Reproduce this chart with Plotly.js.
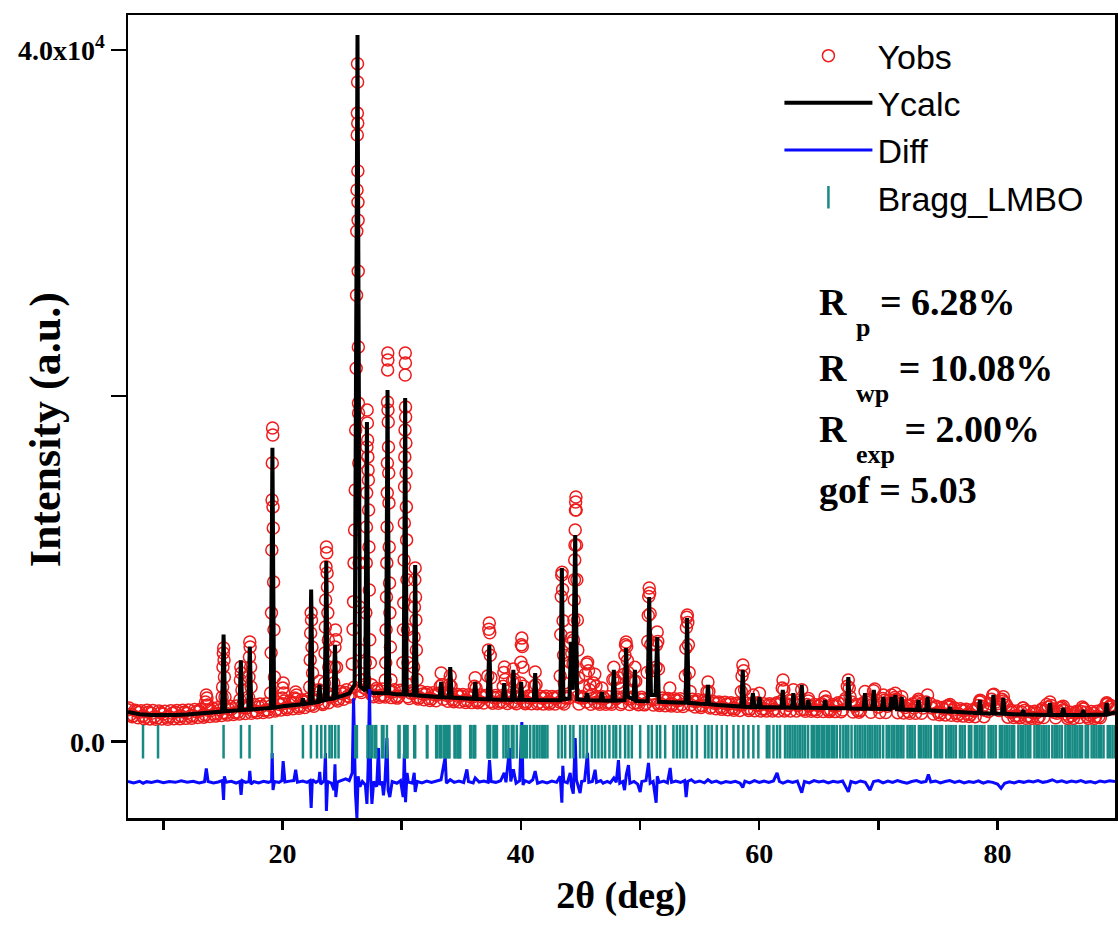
<!DOCTYPE html>
<html>
<head>
<meta charset="utf-8">
<script src="https://cdn.plot.ly/plotly-3.0.1.min.js"></script>
<style>
  html, body { margin: 0; padding: 0; background: #ffffff; }
  #chart { width: 1118px; height: 926px; }
</style>
</head>
<body>
<div id="chart"></div>
<script>
// ---------------- DATA ----------------
// Ycalc: calculated profile, [2theta (deg), intensity]
const yCalcPoints = [
[7.03,1720],[7.5,1640],[8.0,1590],[9.0,1550],[10.0,1530],[11.0,1550],[12.0,1580],[13.0,1630],[14.0,1690],
[14.92,1740],[15.05,6200],[15.18,1760],[16.0,1800],[16.38,1820],[16.5,4700],[16.62,1830],[17.12,1850],[17.25,5500],[17.38,1860],
[18.0,1900],[19.01,1950],[19.15,17000],[19.29,1970],[20.0,2050],[21.0,2120],[21.6,2160],[21.71,2500],[21.82,2180],
[22.27,2220],[22.4,8800],[22.53,2250],[22.98,2300],[23.1,3300],[23.22,2350],[23.54,2400],[23.67,10450],[23.8,2450],
[24.27,2500],[24.4,5600],[24.53,2550],[25.0,2650],[25.6,2800],[26.05,3300],[26.29,40870],[26.5,3200],[26.94,2950],
[27.08,18490],[27.22,2880],[27.6,2820],[28.3,2800],[28.68,2800],[28.81,20340],[28.95,2800],[29.5,2750],[30.16,2750],
[30.29,19880],[30.42,2720],[31.0,2700],[31.13,10220],[31.26,2680],[32.0,2620],[33.18,2580],[33.31,3450],[33.44,2575],
[33.94,2560],[34.07,4320],[34.2,2550],[35.0,2500],[36.04,2480],[36.17,3450],[36.3,2475],[37.22,2450],[37.35,5590],
[37.48,2440],[38.48,2430],[38.6,3390],[38.72,2430],[39.25,2420],[39.37,4150],[39.49,2420],[39.9,2420],[40.02,3450],
[40.14,2420],[41.08,2410],[41.2,3970],[41.32,2410],[42.0,2400],[43.31,2400],[43.44,10040],[43.57,2450],[44.08,2500],
[44.2,5770],[44.36,3000],[44.56,11950],[44.72,2450],[45.42,2400],[45.55,2800],[45.68,2400],[46.68,2385],[46.8,2870],
[46.92,2380],[47.68,2375],[47.8,4150],[47.92,2370],[48.7,2400],[48.83,5420],[48.97,2600],[49.45,2450],[49.57,4150],
[49.69,2355],[50.64,2340],[50.77,8370],[50.92,2700],[51.3,2700],[51.44,6050],[51.58,2310],[52.5,2280],[53.82,2255],
[53.95,7150],[54.08,2250],[55.0,2200],[55.6,2180],[55.7,3280],[55.8,2170],[56.5,2120],[57.5,2070],[58.5,2030],
[58.62,4150],[58.75,2020],[59.35,2010],[59.47,2810],[59.6,2005],[59.9,2000],[60.02,2590],[60.14,2000],[61.0,1990],
[61.86,1985],[61.98,2990],[62.1,1980],[62.75,1975],[62.87,2810],[63.0,1970],[63.45,1968],[63.57,3280],[63.7,1965],
[64.02,1962],[64.13,2410],[64.25,1960],[65.42,1948],[65.53,2410],[65.65,1945],[66.5,1935],[67.35,1930],[67.48,3740],
[67.62,1925],[68.76,1912],[68.88,2810],[69.0,1910],[69.48,1905],[69.62,2990],[69.76,1902],[70.3,1895],[70.42,2590],
[70.54,1890],[70.98,1880],[71.1,2590],[71.24,1875],[71.3,1875],[71.42,2700],[71.55,1870],[71.84,1865],[71.96,2590],
[72.08,1860],[73.24,1838],[73.36,2410],[73.48,1835],[74.01,1822],[74.13,2590],[74.25,1815],[75.9,1745],[76.01,2010],
[76.12,1740],[78.41,1650],[78.53,2410],[78.65,1648],[79.53,1635],[79.65,2700],[79.77,1632],[80.37,1615],[80.49,2530],
[80.61,1612],[82.05,1570],[82.16,1830],[82.27,1568],[84.28,1550],[84.4,2240],[84.52,1550],[85.4,1545],[85.52,1950],
[85.64,1545],[87.08,1540],[87.2,1830],[87.32,1540],[89.04,1570],[89.16,2240],[89.28,1580],[89.86,1700]
];

// Yobs: observed points on the background, [2theta, intensity]
const yObsBackground = [
[7.0,1850],[7.25,1580],[7.5,1500],[7.75,1760],[8.0,1700],[8.25,1480],[8.5,1420],[8.75,1700],[9.0,1640],[9.25,1450],
[9.5,1380],[9.75,1680],[10.0,1600],[10.25,1420],[10.5,1450],[10.75,1640],[11.0,1700],[11.25,1440],[11.5,1480],[11.75,1700],
[12.0,1650],[12.25,1470],[12.5,1500],[12.75,1740],[13.0,1760],[13.25,1520],[13.5,1560],[13.75,1820],[14.0,1800],[14.25,1600],
[14.5,1620],[14.75,1850],[15.0,1680],[15.25,1640],[15.5,1880],[15.75,1900],[16.0,1690],[16.25,1700],[16.75,1960],[17.0,1950],
[17.5,1760],[17.75,1780],[18.0,2020],[18.25,2040],[18.5,1800],[18.75,1830],[19.0,2060],[19.5,1880],[19.75,2150],[20.0,2200],
[20.25,1950],[20.5,1960],[20.75,2230],[21.0,2250],[21.25,2020],[21.5,2050],[21.75,2300],[22.0,2330],[22.25,2100],[22.5,2150],
[22.75,2400],[23.0,2420],[23.25,2220],[23.5,2250],[24.0,2580],[24.25,2620],[24.5,2450],[24.75,2480],[25.0,2780],[25.25,2850],
[25.5,2650],[25.75,2760],[26.0,3150],[26.5,2950],[26.75,3150],[27.0,3050],[27.5,2700],[27.75,2930],[28.0,2950],[28.25,2680],
[28.5,2680],[29.0,2900],[29.25,2880],[29.5,2620],[29.75,2630],[30.0,2880],[30.5,2600],[30.75,2820],[31.0,2820],[31.25,2570],
[31.5,2550],[31.75,2760],[32.0,2740],[32.25,2500],[32.5,2480],[32.75,2710],[33.0,2700],[33.5,2450],[33.75,2690],[34.0,2680],
[34.25,2430],[34.5,2400],[34.75,2630],[35.0,2640],[35.25,2380],[35.5,2380],[35.75,2600],[36.0,2600],[36.25,2360],[36.5,2340],
[36.75,2580],[37.0,2580],[37.5,2330],[37.75,2550],[38.0,2560],[38.25,2320],[38.5,2300],[38.75,2540],[39.0,2550],[39.25,2310],
[39.5,2300],[39.75,2540],[40.0,2540],[40.25,2300],[40.5,2290],[40.75,2530],[41.0,2550],[41.5,2280],[41.75,2520],[42.0,2530],
[42.25,2290],[42.5,2270],[42.75,2520],[43.0,2520],[43.25,2290],[43.5,2280],[43.75,2520],[44.0,2520],[44.75,2600],[45.0,2530],
[45.25,2520],[45.5,2300],[45.75,3000],[46.0,2500],[46.25,2270],[46.5,2270],[46.75,2500],[47.0,2500],[47.25,2270],[47.5,2260],
[48.0,2490],[48.5,2250],[49.0,2480],[49.25,2480],[49.5,2240],[49.75,2240],[50.0,2460],[50.25,2450],[50.5,2220],[51.0,2440],
[51.25,2440],[51.5,2200],[51.75,2200],[52.0,2410],[52.25,2400],[52.5,2170],[52.75,2170],[53.0,2390],[53.25,2380],[53.5,2150],
[54.25,2130],[54.5,2340],[54.75,2330],[55.0,2080],[55.25,2080],[55.5,2290],[56.0,2010],[56.25,2220],[56.5,2220],[56.75,1990],
[57.0,1970],[57.25,2180],[57.5,2180],[57.75,1940],[58.0,1920],[58.25,2140],[58.5,2140],[59.0,1900],[59.25,1910],[59.5,2200],
[59.75,2120],[60.0,2100],[60.25,1890],[60.5,1890],[60.75,2110],[61.0,2110],[61.25,1880],[61.5,2250],[61.75,2200],[62.25,1880],
[62.5,2090],[62.75,2400],[63.0,2200],[63.25,2100],[63.5,1860],[63.75,1860],[64.0,2150],[64.25,2080],[64.5,1850],[64.75,1850],
[65.0,2070],[65.25,2200],[65.5,2300],[65.75,1840],[66.0,1840],[66.25,2060],[66.5,2060],[66.75,2200],[67.0,1830],[67.25,2500],
[67.75,2300],[68.0,2050],[68.25,1810],[68.5,1810],[68.75,2250],[69.0,2300],[69.25,2400],[69.5,2150],[70.0,2000],[70.25,2200],
[70.5,2400],[70.75,2050],[71.0,2250],[71.25,2400],[71.5,2450],[71.75,2150],[72.0,2100],[72.25,1980],[72.5,1750],[72.75,2100],
[73.0,1950],[73.25,2250],[73.5,2150],[73.75,1950],[74.0,2300],[74.5,1950],[74.75,2000],[75.0,1700],[75.25,1660],[75.5,1880],
[75.75,2050],[76.0,2000],[76.25,1820],[76.5,1640],[76.75,1600],[77.0,1820],[77.25,1800],[77.5,1600],[77.75,1580],[78.0,1780],
[78.25,1900],[78.5,2300],[78.75,2050],[79.0,1800],[79.25,1750],[79.5,2450],[80.0,2200],[80.25,2000],[80.5,2350],[80.75,2100],
[81.0,1720],[81.25,1700],[81.5,1500],[81.75,1480],[82.0,1700],[82.25,1800],[82.5,1480],[82.75,1450],[83.0,1660],[83.25,1660],
[83.5,1450],[83.75,1900],[84.0,1800],[84.25,2000],[84.5,2100],[84.75,1700],[85.0,1650],[85.25,1950],[85.5,1850],[85.75,1600],
[86.0,1450],[86.25,1500],[86.5,1650],[86.75,1700],[87.0,1750],[87.25,1900],[87.5,1460],[87.75,1550],[88.0,1640],[88.25,1460],
[88.5,1450],[88.75,1800],[89.0,1900],[89.25,2200],[89.5,2100],[89.75,1900]
];

// Yobs: further observed background points lying between the ones above, [2theta, intensity]
const yObsBackgroundFine = [
[7.125,1950],[7.375,1450],[7.625,1820],[7.875,1380],[8.125,1790],[8.375,1330],[8.625,1820],[8.875,1320],[9.125,1800],[9.375,1300],
[9.625,1780],[9.875,1310],[10.125,1760],[10.375,1300],[10.625,1790],[10.875,1330],[11.125,1800],[11.375,1330],[11.625,1820],[11.875,1350],
[12.125,1830],[12.375,1360],[12.625,1860],[12.875,1400],[13.125,1880],[13.375,1420],[13.625,2100],[13.875,1460],[14.125,1950],[14.375,1480],
[14.625,1980],[14.875,1520],[15.125,2000],[15.375,1540],[15.625,2050],[15.875,1580],[16.125,2060],[16.375,1600],[16.625,2100],[16.875,1630],
[17.125,2120],[17.375,1650],[17.625,2150],[17.875,1670],[18.125,2180],[18.375,1690],[18.625,2200],[18.875,1720],[19.375,1770],[19.625,2250],
[19.875,1830],[20.125,2350],[20.375,1860],[20.625,2350],[20.875,1900],[21.125,2450],[21.375,1930],[21.625,2420],[21.875,1980],[22.125,2470],
[22.625,2050],[22.875,2550],[23.375,2150],[23.875,2250],[24.125,2720],[24.625,2350],[24.875,2900],[25.125,2450],[25.375,3000],[25.625,2580],
[26.625,2850],[26.875,3300],[27.625,2600],[27.875,3080],[28.125,2570],[28.375,3050],[28.625,2580],[29.125,2550],[29.375,3000],[29.625,2520],
[29.875,2980],[30.625,2500],[30.875,2950],[31.375,2470],[31.625,2900],[31.875,2420],[32.125,2850],[32.375,2380],[32.625,2830],[32.875,2370],
[33.125,2800],[33.625,2800],[33.875,2340],[34.125,2780],[34.375,2310],[34.625,2750],[34.875,2290],[35.125,2730],[35.375,2270],[35.625,2720],
[35.875,2260],[36.125,2700],[36.375,2250],[36.625,2700],[36.875,2240],[37.125,2680],[37.625,2230],[37.875,2670],[38.125,2220],[38.375,2660],
[38.875,2210],[39.125,2660],[39.625,2200],[39.875,2650],[40.375,2200],[40.625,2640],[40.875,2190],[41.125,2640],[41.375,2190],[41.625,2630],
[41.875,2180],[42.125,2630],[42.375,2180],[42.625,2620],[42.875,2180],[43.125,2620],[43.625,2180],[43.875,2620],[44.875,2180],[45.125,2620],
[45.875,2170],[46.375,2620],[46.625,2170],[46.875,2600],[47.125,2160],[47.375,2600],[47.625,2160],[48.125,2590],[48.375,2150],[48.625,2600],
[49.125,2150],[49.375,2580],[49.875,2140],[50.125,2570],[50.375,2130],[51.125,2120],[51.625,2100],[51.875,2520],[52.125,2080],[52.375,2500],
[52.625,2060],[52.875,2490],[53.125,2050],[53.375,2480],[53.625,2040],[54.375,2450],[54.625,2010],[54.875,2420],[55.125,1980],[55.375,2400],
[55.875,1950],[56.125,2330],[56.375,1900],[56.625,2300],[56.875,1870],[57.125,2280],[57.375,1850],[57.625,2250],[57.875,1820],[58.125,2230],
[58.375,1810],[58.875,2220],[59.125,1800],[59.375,2220],[59.625,1790],[59.875,2250],[60.125,1780],[60.375,2200],[60.625,1780],[60.875,2200],
[61.125,1770],[61.375,2180],[61.625,1780],[61.875,2350],[62.125,1780],[62.375,2180],[62.625,1770],[63.125,1770],[63.375,2300],[63.875,1760],
[64.125,2350],[64.375,1760],[64.625,2150],[64.875,1750],[65.125,2150],[65.375,1750],[65.625,2350],[65.875,1740],[66.125,2150],[66.375,1740],
[66.625,2250],[66.875,1730],[67.125,2350],[67.625,2600],[67.875,1720],[68.125,2150],[68.375,1710],[68.625,2150],[69.125,2450],[69.375,1700],
[69.875,2400],[70.125,1690],[70.375,2500],[70.625,1690],[70.875,2400],[71.375,2550],[71.625,1680],[71.875,2350],[72.125,1660],[72.375,2100],
[72.625,1650],[72.875,2200],[73.125,1640],[73.375,2350],[73.625,1640],[73.875,2150],[74.375,2200],[74.625,1600],[74.875,2050],[75.125,1560],
[75.375,1980],[75.625,1550],[75.875,2100],[76.125,1530],[76.375,1950],[76.625,1500],[76.875,1900],[77.125,1480],[77.375,1880],[77.625,1460],
[77.875,1850],[78.125,1450],[78.375,2100],[78.625,2350],[78.875,1450],[79.125,1900],[79.375,2200],[79.875,2300],[80.125,1800],[80.375,2450],
[80.625,2250],[80.875,1420],[81.125,1820],[81.375,1400],[81.625,1780],[81.875,1380],[82.125,1950],[82.375,1360],[82.625,1750],[82.875,1350],
[83.125,1760],[83.375,1350],[83.625,1800],[83.875,1400],[84.125,2150],[84.625,1900],[84.875,1380],[85.125,1750],[85.375,2000],[85.625,1800],
[85.875,1350],[86.125,1700],[86.375,1350],[86.625,1750],[86.875,1400],[87.125,2000],[87.375,1700],[87.625,1350],[87.875,1750],[88.125,1350],
[88.375,1760],[88.625,1380],[88.875,1900],[89.125,2150],[89.375,2000],[89.625,2050]
];

// Yobs: observed points on the reflections, [2theta, intensity]
const yObsPeaks = [
[13.54,2300],[13.6,2700],[13.66,2530],[13.72,2120],
[14.93,2590],[14.97,3160],[15.0,4320],[15.03,5130],[15.06,5420],[15.09,4730],[15.12,3740],[15.17,2590],
[16.42,2410],[16.46,3570],[16.5,4320],[16.54,3970],[16.59,2990],
[17.14,2590],[17.18,3740],[17.22,4900],[17.25,5770],[17.28,5480],[17.32,4320],[17.36,3160],
[19.0,2820],[19.04,5140],[19.07,7450],[19.1,11090],[19.12,13980],[19.14,16120],[19.16,18140],[19.18,17740],[19.2,13580],
[19.22,12360],[19.25,9240],[19.28,6470],[19.32,3740],
[19.98,2530],[20.02,3100],[20.06,3390],[20.1,2820],
[21.03,2530],[21.1,2880],[21.16,2700],
[22.28,3160],[22.32,4730],[22.36,6290],[22.4,7450],[22.43,7040],[22.47,5480],[22.52,3970],
[23.05,3000],[23.1,3500],[23.15,2900],
[23.52,3390],[23.56,5130],[23.59,6630],[23.62,8190],[23.65,10110],[23.68,11260],[23.71,10920],[23.74,9760],[23.77,8950],
[23.8,7450],[23.84,5880],[23.88,4320],
[24.3,3390],[24.35,4320],[24.4,5480],[24.44,6460],[24.48,5900],[24.53,4300],
[25.85,4500],[25.92,6500],[25.96,8100],[26.0,10340],[26.05,12240],[26.1,14560],[26.14,18030],[26.18,21600],[26.21,25820],
[26.23,29520],[26.25,31900],[26.27,35080],[26.28,36350],[26.29,39210],[26.3,38150],[26.31,35770],[26.32,33000],[26.33,31200],
[26.34,30160],[26.35,27200],[26.36,22820],[26.37,19580],[26.38,19010],[26.4,16120],[26.43,10340],[26.46,7790],[26.5,5300],[26.55,3570],
[26.9,3600],[26.95,4560],[26.99,7450],[27.02,10340],[27.04,12420],[27.06,14390],[27.08,17040],[27.1,19180],[27.12,18430],
[27.14,17450],[27.16,16470],[27.18,15710],[27.2,15130],[27.22,13400],[27.25,11260],[27.28,8770],[27.32,5890],[27.37,4560],[27.45,3300],
[28.62,3570],[28.66,4560],[28.69,6470],[28.72,8370],[28.75,10340],[28.77,12420],[28.79,14390],[28.8,16120],[28.81,19650],
[28.82,21500],[28.83,22480],[28.84,22070],[28.85,19180],[28.87,18490],[28.89,17040],[28.91,15540],[28.93,13810],[28.95,11260],
[28.98,9180],[29.01,7450],[29.05,5480],[29.1,3570],
[30.1,4560],[30.14,6470],[30.17,8030],[30.2,10510],[30.22,12650],[30.24,14740],[30.26,16470],[30.28,18030],[30.29,21210],
[30.3,22480],[30.31,21900],[30.32,19360],[30.33,18780],[30.35,17270],[30.37,15540],[30.39,13580],[30.41,11670],[30.44,9360],
[30.48,6470],[30.53,4560],[30.6,3300],
[31.0,4320],[31.04,6050],[31.07,7790],[31.1,9360],[31.13,10040],[31.16,8370],[31.19,7040],[31.23,5300],[31.28,3600],
[33.24,3200],[33.31,3970],[33.38,3300],
[34.0,3300],[34.07,3800],[34.14,3200],
[36.1,3200],[36.17,3700],[36.24,3100],
[37.22,3800],[37.27,5300],[37.31,6500],[37.35,6860],[37.39,6300],[37.43,5000],[37.49,3700],
[38.52,3200],[38.57,4000],[38.62,4320],[38.68,3600],
[39.3,3500],[39.37,4200],[39.44,3600],
[39.96,3400],[40.0,4600],[40.04,5600],[40.08,5990],[40.12,5500],[40.17,4300],[40.24,3200],
[41.12,3200],[41.2,4030],[41.27,3300],
[43.3,3800],[43.35,6200],[43.39,8400],[43.43,9640],[43.46,9800],[43.5,8800],[43.54,7000],[43.59,5000],[43.65,3400],
[44.12,4600],[44.17,5700],[44.22,6000],[44.27,5100],
[44.38,4500],[44.42,5880],[44.45,7040],[44.48,8190],[44.5,9360],[44.52,10510],[44.54,11370],[44.56,12240],[44.58,13400],
[44.6,13860],[44.62,14150],[44.64,13400],[44.67,11370],[44.7,9360],[44.74,7040],[44.78,5300],[44.84,3700],
[45.3,3200],[45.42,3900],[45.52,4500],[45.6,4600],[45.68,4100],[45.8,3300],[46.1,3400],[46.2,3900],[46.3,3200],
[46.8,3100],
[47.72,3600],[47.8,4300],[47.88,3600],
[48.15,3400],[48.22,3700],[48.3,3100],
[48.68,3900],[48.73,5000],[48.78,5600],[48.83,5770],[48.88,5500],[48.94,4700],[49.0,4000],[49.06,3600],
[49.5,3500],[49.57,4300],[49.64,3500],
[50.6,4000],[50.65,5800],[50.69,7300],[50.73,8400],[50.77,8890],[50.81,8600],[50.85,7400],[50.9,5600],[50.97,4100],
[51.34,4300],[51.39,5600],[51.44,6340],[51.49,5800],[51.55,4200],
[52.5,3100],
[53.8,3800],[53.85,5400],[53.89,6600],[53.93,7200],[53.97,7330],[54.01,6900],[54.06,5600],[54.12,4000],[54.2,2900],
[55.62,2900],[55.7,3450],[55.78,2900],
[58.5,2900],[58.56,3800],[58.63,4440],[58.7,4100],[58.78,3000],
[59.5,2700],[60.02,2800],[61.93,3100],[62.0,3570],[62.07,3000],[62.87,3000],[63.57,3000],[64.13,2500],[65.53,2600],
[67.4,3200],[67.48,3570],[67.56,3100],[68.88,2900],[69.6,2950],[69.7,3050],[70.42,2700],[71.1,2700],[71.42,2800],
[71.96,2600],[73.36,2450],[74.13,2700],[76.01,2150],[78.53,2400],[79.6,2700],[79.7,2750],[80.49,2600],[82.16,1950],
[84.4,2300],[85.52,2050],[87.2,1900],[89.16,2250]
];

// Diff: difference curve (already shifted below the pattern), [2theta, intensity]
const diffPoints = [
[7.03,-2300],[7.5,-2380],[8.0,-2290],[8.3,-2400],[8.6,-2310],[9.0,-2360],[9.5,-2280],[10.0,-2370],[10.5,-2300],[11.0,-2350],
[11.5,-2260],[12.0,-2340],[12.5,-2290],[13.0,-2380],[13.45,-2320],[13.6,-1550],[13.75,-2300],[14.2,-2380],[14.6,-2330],
[14.95,-2250],[15.05,-3370],[15.12,-2000],[15.25,-2350],[15.7,-2290],[16.1,-2390],[16.42,-2300],[16.52,-3080],[16.62,-2250],
[16.9,-2350],[17.18,-2300],[17.25,-1680],[17.35,-2450],[17.6,-2310],[18.0,-2380],[18.4,-2290],[18.8,-2350],[19.08,-2280],
[19.13,-650],[19.2,-2790],[19.32,-2300],[19.7,-2360],[19.95,-2250],[20.05,-1120],[20.2,-2330],[20.6,-2280],[20.95,-2250],
[21.1,-1620],[21.25,-2340],[21.7,-2280],[22.05,-2350],[22.3,-2250],[22.4,-3830],[22.5,-2200],[22.8,-2350],[23.05,-2250],
[23.12,-1750],[23.2,-2450],[23.5,-2250],[23.6,-650],[23.68,-4010],[23.78,-2300],[24.1,-2400],[24.32,-2800],[24.4,-1300],
[24.47,-3200],[24.6,-2330],[24.9,-2250],[25.3,-2150],[25.6,-2250],[25.85,-1800],[25.96,2510],[26.05,-1500],[26.12,-3000],
[26.24,-4410],[26.34,-2000],[26.5,-2600],[26.7,-2300],[26.95,-2500],[27.08,-3600],[27.18,-1500],[27.3,3050],[27.4,-2200],
[27.5,-3600],[27.65,-2300],[27.9,-2600],[28.05,-360],[28.15,-2500],[28.35,-2300],[28.47,-3100],[28.6,-2200],[28.76,210],
[28.86,-2800],[29.0,-3200],[29.2,-2300],[29.6,-2400],[29.9,-2250],[30.12,-3200],[30.22,-700],[30.32,-3500],[30.45,-1800],
[30.55,-2330],[30.9,-2400],[31.05,-1800],[31.13,-2900],[31.3,-2300],[31.7,-2380],[32.1,-2280],[32.5,-2360],[32.9,-2300],
[33.3,-2200],[33.65,-880],[33.75,-2400],[34.07,-2200],[34.4,-2350],[34.8,-2280],[35.2,-2360],[35.47,-1600],[35.6,-2300],
[36.0,-2380],[36.17,-2100],[36.5,-2330],[36.9,-2270],[37.25,-2350],[37.37,-1060],[37.5,-2300],[37.9,-2350],[38.3,-2260],
[38.6,-1800],[38.75,-2350],[39.05,-360],[39.15,-2300],[39.37,-1600],[39.6,-2400],[39.9,-2250],[40.08,1140],[40.18,-2500],
[40.35,-2250],[40.7,-2360],[41.0,-2200],[41.2,-1700],[41.4,-2400],[41.8,-2300],[42.2,-2380],[42.6,-2280],[43.0,-2350],
[43.3,-2000],[43.44,-3530],[43.52,-1400],[43.6,-2300],[43.9,-2380],[44.14,-1800],[44.25,-2600],[44.4,-3000],[44.56,210],
[44.66,-2200],[44.97,-2970],[45.1,-2300],[45.35,-2250],[45.59,-650],[45.7,-2350],[46.0,-2300],[46.23,-1620],[46.35,-2350],
[46.7,-2250],[46.9,-2400],[47.25,-2300],[47.5,-2380],[47.8,-2100],[48.0,-2350],[48.19,-1060],[48.3,-2400],[48.55,-2300],
[48.7,-2800],[48.85,-1900],[49.03,-1350],[49.15,-2400],[49.5,-2300],[49.8,-2450],[50.01,-2910],[50.15,-2300],[50.5,-2250],
[50.71,-1230],[50.85,-2400],[51.1,-2300],[51.35,-3530],[51.45,-2000],[51.6,-2350],[52.0,-2280],[52.3,-2380],[52.53,-1520],
[52.65,-2350],[53.0,-2280],[53.4,-2360],[53.75,-2250],[53.87,-3200],[54.0,-2300],[54.3,-2200],[54.6,-2350],[55.0,-2270],
[55.4,-2380],[55.7,-2200],[56.0,-2350],[56.4,-2280],[56.8,-2400],[57.2,-2300],[57.6,-2360],[58.0,-2290],[58.4,-2400],
[58.62,-2650],[58.8,-2280],[59.2,-2380],[59.6,-2250],[60.0,-2350],[60.4,-2280],[60.8,-2360],[61.2,-2270],[61.5,-1800],
[61.7,-2300],[62.0,-2400],[62.4,-2280],[62.8,-2350],[63.2,-2270],[63.57,-2950],[63.8,-2300],[64.2,-2380],[64.6,-2250],
[65.0,-2330],[65.4,-2280],[65.8,-2380],[66.2,-2290],[66.6,-2340],[67.0,-2270],[67.48,-2900],[67.7,-2300],[68.1,-2380],
[68.5,-2270],[68.9,-2350],[69.3,-2800],[69.6,-2300],[70.0,-2250],[70.4,-2380],[70.8,-2280],[71.2,-2350],[71.6,-2250],
[72.0,-2330],[72.4,-2400],[72.8,-2300],[73.2,-2250],[73.6,-2350],[74.0,-2300],[74.2,-1900],[74.4,-2330],[74.8,-2270],
[75.2,-2380],[75.6,-2300],[76.0,-2250],[76.4,-2350],[76.8,-2280],[77.2,-2380],[77.6,-2300],[78.0,-2360],[78.4,-2260],
[78.8,-2400],[79.2,-2300],[79.6,-2350],[80.0,-2450],[80.3,-2700],[80.6,-2400],[81.0,-2320],[81.4,-2380],[81.8,-2290],
[82.2,-2350],[82.6,-2270],[83.0,-2330],[83.4,-2250],[83.8,-2350],[84.2,-2300],[84.6,-2200],[85.0,-2330],[85.4,-2260],
[85.8,-2350],[86.2,-2280],[86.6,-2330],[87.0,-2250],[87.4,-2350],[87.8,-2300],[88.2,-2380],[88.6,-2270],[89.0,-2330],
[89.4,-2260],[89.86,-2300]
];

// Bragg_LMBO reflection positions (2theta, deg)
const braggPositions = [
8.29,9.55,15.05,16.51,17.23,19.11,21.71,22.38,22.89,23.25,23.58,23.94,24.14,24.42,24.7,26.1,26.24,27.13,27.36,27.55,
27.78,27.86,28.34,28.47,28.76,29.73,29.82,30.21,30.29,30.38,30.49,31.05,31.13,32.11,32.16,32.89,32.95,33.17,33.29,33.51,
33.65,33.79,33.93,34.01,34.43,34.49,34.68,34.71,34.85,34.91,35.75,35.8,36.02,36.08,36.17,37.2,37.28,37.37,37.42,37.7,
37.84,37.99,38.54,38.77,38.96,39.24,39.33,39.38,39.66,40.0,40.17,40.36,40.5,40.78,41.06,41.12,41.34,41.56,41.76,41.9,
42.04,42.23,43.15,43.44,43.72,44.14,44.41,44.97,45.25,45.54,45.96,46.23,46.51,46.8,47.07,47.43,47.77,48.0,48.33,48.75,
49.03,49.31,50.01,50.7,50.99,51.41,51.69,52.11,52.8,53.09,53.36,53.64,53.93,54.35,54.77,55.46,55.74,56.02,56.44,56.86,
57.28,57.84,58.25,58.67,59.09,59.51,59.93,60.64,60.85,61.2,61.5,61.75,62.17,62.38,62.59,62.8,63.01,63.22,63.43,63.64,
63.85,64.1,64.41,64.62,64.83,65.04,65.25,65.46,65.67,65.88,66.09,66.3,66.51,66.8,67.06,67.27,67.48,67.75,68.04,68.25,
68.46,68.67,68.88,69.1,69.3,69.5,69.72,69.92,70.13,70.4,70.7,70.9,71.12,71.33,71.54,71.7,71.9,72.1,72.45,72.65,
72.85,73.05,73.4,73.6,73.8,74.0,74.2,74.4,74.75,74.95,75.15,75.35,75.7,75.9,76.1,76.3,76.5,76.85,77.05,77.25,
77.6,77.8,78.1,78.3,78.5,78.7,78.9,79.25,79.45,79.65,79.85,80.2,80.4,80.6,80.8,81.0,81.2,81.4,81.75,81.95,
82.15,82.35,82.55,82.75,83.1,83.3,83.5,83.7,83.9,84.1,84.3,84.6,84.8,85.0,85.2,85.4,85.7,85.9,86.1,86.3,
86.5,86.7,86.9,87.1,87.4,87.6,87.9,88.1,88.3,88.5,88.7,88.9,89.25,89.45,89.65,89.85
];

// Axis ticks
const xMajorTickValues = [20, 40, 60, 80];
const xMajorTickLabels = ['20', '40', '60', '80'];
const xMinorTickValues = [10, 30, 50, 70];
const yMajorTickValues = [0, 40000];
const yMajorTickLabels = ['0.0', '4.0x10<sup>4</sup>'];
const yMinorTickValues = [20000];

// Refinement statistics
const statNames = ['R', 'R', 'R', 'gof'];
const statSubscripts = ['p', 'wp', 'exp', ''];
const statValues = ['6.28%', '10.08%', '2.00%', '5.03'];

// Series names
const seriesNames = ['Yobs', 'Ycalc', 'Diff', 'Bragg_LMBO'];

// ---------------- CHART ----------------
const SERIF = '"Liberation Serif", "Times New Roman", serif';
const SANS = '"Liberation Sans", Arial, sans-serif';
const BRAGG_LEVEL = 0;

const yObsAll = yObsBackground.concat(yObsBackgroundFine, yObsPeaks);

const traces = [
  {
    type: 'scatter', mode: 'markers', name: seriesNames[0],
    x: yObsAll.map(p => p[0]), y: yObsAll.map(p => p[1]),
    marker: { symbol: 'circle-open', size: 12, color: '#ee1c1c', line: { width: 1.5, color: '#ee1c1c' } },
    hoverinfo: 'skip'
  },
  {
    type: 'scatter', mode: 'lines', name: seriesNames[1],
    x: yCalcPoints.map(p => p[0]), y: yCalcPoints.map(p => p[1]),
    line: { color: '#000000', width: 4 },
    hoverinfo: 'skip'
  },
  {
    type: 'scatter', mode: 'lines', name: seriesNames[2],
    x: diffPoints.map(p => p[0]), y: diffPoints.map(p => p[1]),
    line: { color: '#0a0aff', width: 3 },
    hoverinfo: 'skip'
  },
  {
    type: 'scatter', mode: 'markers', name: seriesNames[3],
    x: braggPositions, y: braggPositions.map(() => BRAGG_LEVEL),
    marker: { symbol: 'line-ns-open', size: 24, color: '#178a84', line: { width: 2.5, color: '#178a84' } },
    hoverinfo: 'skip'
  }
];

const statY = [0.631, 0.549, 0.473, 0.408];
const annotations = statNames.map((n, i) => ({
  xref: 'paper', yref: 'paper', x: 0.698, y: statY[i], xanchor: 'left', yanchor: 'middle',
  showarrow: false,
  text: statSubscripts[i]
    ? (n + ' <span style="font-size:26px;baseline-shift:-21px">' + statSubscripts[i] + '</span> = ' + statValues[i])
    : (n + ' = ' + statValues[i]),
  font: { family: SERIF, size: 38, color: '#000', weight: 'bold' }
}));
annotations.push({
  xref: 'paper', yref: 'paper', x: -0.084, y: 0.483, xanchor: 'center', yanchor: 'middle',
  showarrow: false, textangle: -90, text: 'Intensity (a.u.)',
  font: { family: SERIF, size: 44, color: '#000', weight: 'bold' }
});

const tickStyle = { ticks: 'outside', tickwidth: 2.5, tickcolor: '#000' };

const layout = {
  width: 1118, height: 926,
  margin: { l: 128, r: 3, t: 15, b: 108 },
  paper_bgcolor: '#ffffff', plot_bgcolor: '#ffffff',
  font: { family: SERIF, color: '#000' },
  showlegend: true,
  hovermode: false,
  xaxis: Object.assign({
    range: [7.03, 89.86], automargin: false,
    tickmode: 'array', tickvals: xMajorTickValues, ticktext: xMajorTickLabels, ticklen: 9,
    minor: Object.assign({ tickmode: 'array', tickvals: xMinorTickValues, ticklen: 9, showgrid: false }, tickStyle),
    showline: true, linewidth: 2.5, linecolor: '#000', mirror: true,
    showgrid: false, zeroline: false,
    tickfont: { family: SERIF, size: 28, color: '#000', weight: 'bold' },
    title: { text: '2θ (deg)', font: { family: SERIF, size: 38, color: '#000', weight: 'bold' }, standoff: 14 }
  }, tickStyle),
  yaxis: Object.assign({
    range: [-4412, 42023], automargin: false,
    tickmode: 'array', tickvals: yMajorTickValues, ticktext: yMajorTickLabels, ticklen: 15,
    minor: Object.assign({ tickmode: 'array', tickvals: yMinorTickValues, ticklen: 15, showgrid: false }, tickStyle),
    showline: true, linewidth: 2.5, linecolor: '#000', mirror: true,
    showgrid: false, zeroline: false,
    tickfont: { family: SERIF, size: 28, color: '#000', weight: 'bold' }
  }, tickStyle),
  legend: {
    x: 0.660, y: 0.985, xanchor: 'left', yanchor: 'top',
    font: { family: SANS, size: 34, color: '#000' },
    bgcolor: 'rgba(0,0,0,0)', borderwidth: 0,
    itemwidth: 88, tracegroupgap: 0
  },
  annotations: annotations
};

Plotly.newPlot('chart', traces, layout, { displayModeBar: false, staticPlot: true });
</script>
</body>
</html>
